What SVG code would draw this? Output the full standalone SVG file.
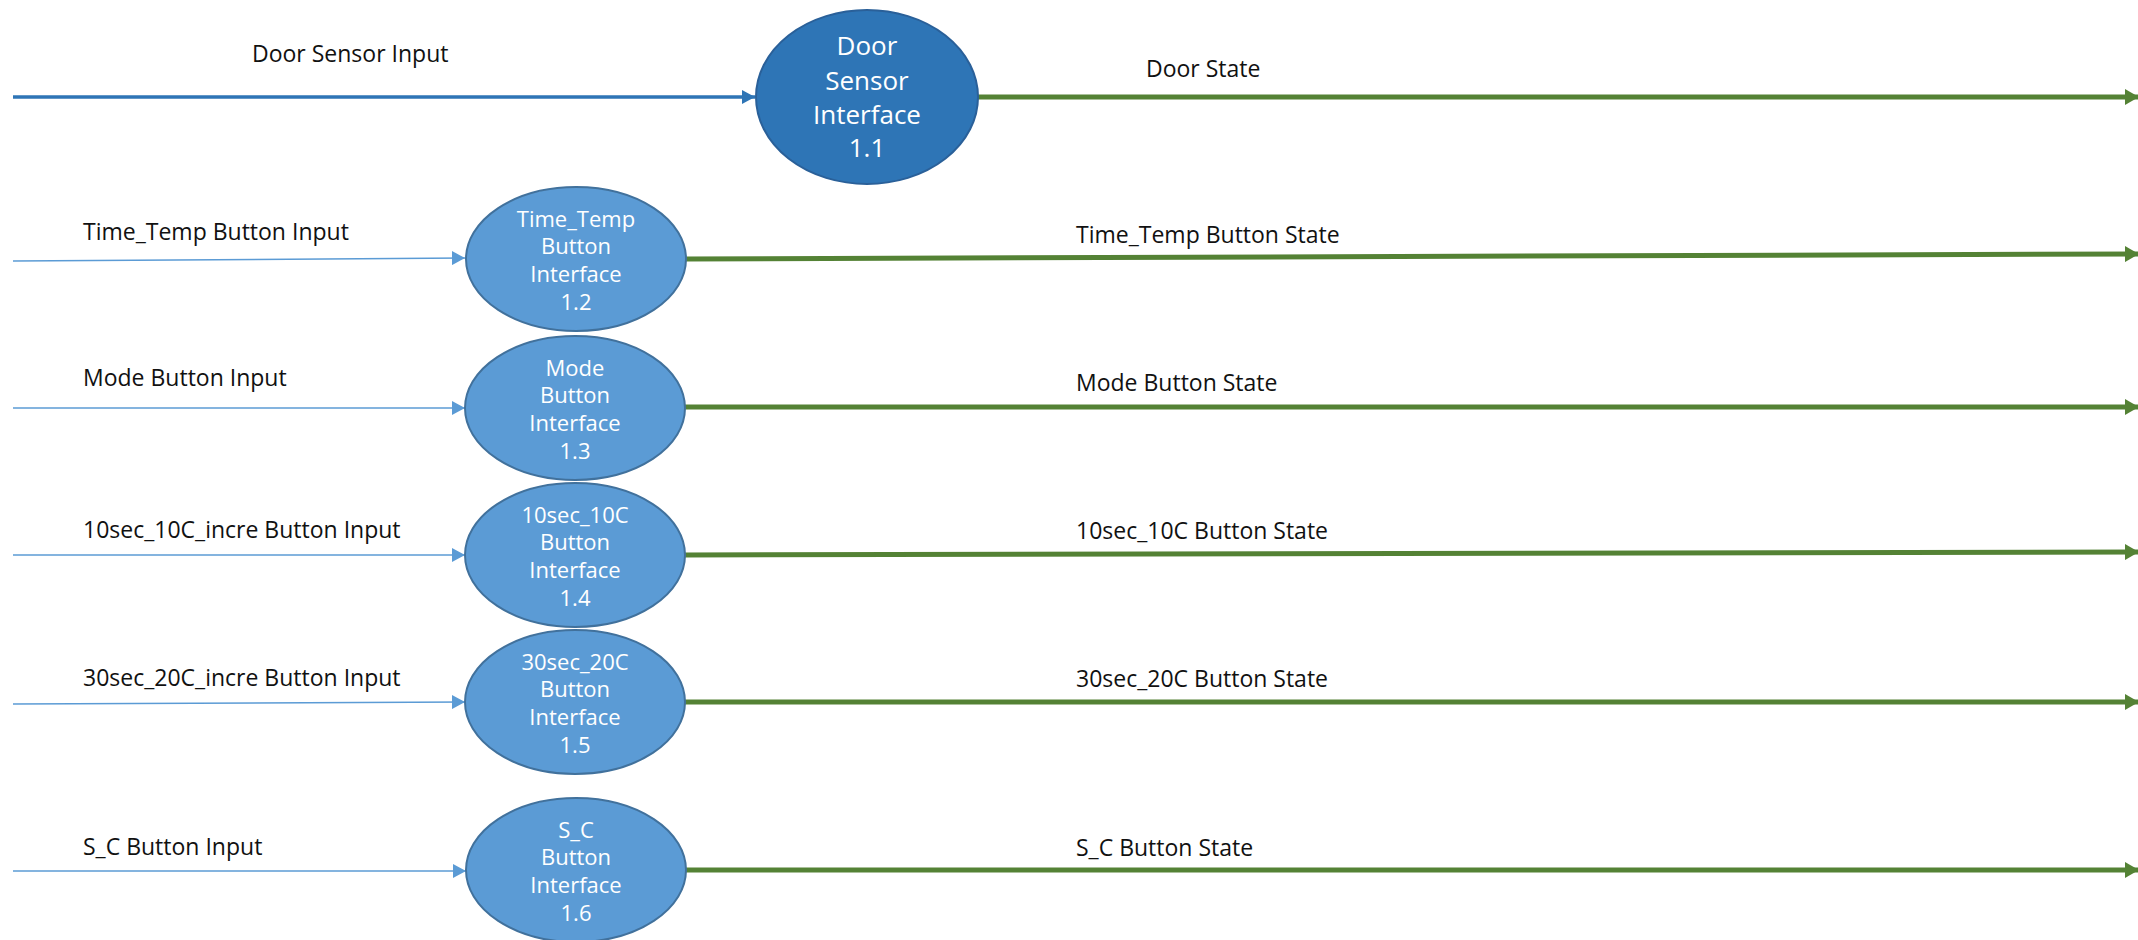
<svg xmlns="http://www.w3.org/2000/svg" width="2138" height="940" viewBox="0 0 2138 940">
<style>
  .lbl { font-family: "Open Sans", "Noto Sans", sans-serif; font-size: 23px; fill: #111; }
  .nt { font-family: "Open Sans", "Noto Sans", sans-serif; font-size: 22px; fill: #fff; text-anchor: middle; }
  .nt1 { font-family: "Open Sans", "Noto Sans", sans-serif; font-size: 26px; fill: #fff; text-anchor: middle; }
  .node { fill: #5b9bd5; stroke: #41719c; stroke-width: 2; }
  .node1 { fill: #2e75b6; stroke: #2a6099; stroke-width: 2; }
  .in { fill: none; stroke: #5b9bd5; stroke-width: 1.5; marker-end: url(#ahIn); }
  .in1 { fill: none; stroke: #2e75b6; stroke-width: 3.5; marker-end: url(#ahIn1); }
  .out { fill: none; stroke: #548235; stroke-width: 5; marker-end: url(#ahOut); }
</style>
<defs>
  <marker id="ahIn" markerUnits="userSpaceOnUse" markerWidth="14" markerHeight="14" refX="13" refY="7" orient="auto">
    <path d="M0,0 L13,7 L0,14 Z" fill="#5b9bd5"/>
  </marker>
  <marker id="ahIn1" markerUnits="userSpaceOnUse" markerWidth="14" markerHeight="14" refX="13" refY="7" orient="auto">
    <path d="M0,0 L13,7 L0,14 Z" fill="#2e75b6"/>
  </marker>
  <marker id="ahOut" markerUnits="userSpaceOnUse" markerWidth="14" markerHeight="16" refX="13" refY="8" orient="auto">
    <path d="M0,0 L14,8 L0,16 Z" fill="#548235"/>
  </marker>
</defs>
<rect width="2138" height="940" fill="#fff"/>

<g id="connectors">
  <line class="in1" x1="13" y1="97" x2="755" y2="97"/>
  <line class="out" x1="978" y1="97" x2="2138" y2="97"/>
  <line class="in" x1="13" y1="261" x2="465" y2="258"/>
  <line class="out" x1="686" y1="259" x2="2138" y2="254"/>
  <line class="in" x1="13" y1="408" x2="465" y2="408"/>
  <line class="out" x1="685" y1="407" x2="2138" y2="407"/>
  <line class="in" x1="13" y1="555" x2="465" y2="555"/>
  <line class="out" x1="685" y1="555" x2="2138" y2="552"/>
  <line class="in" x1="13" y1="704" x2="465" y2="702"/>
  <line class="out" x1="685" y1="702" x2="2138" y2="702"/>
  <line class="in" x1="13" y1="871" x2="466" y2="871"/>
  <line class="out" x1="686" y1="870" x2="2138" y2="870"/>
</g>

<g id="labels">
  <text class="lbl" x="252" y="62">Door Sensor Input</text>
  <text class="lbl" x="1146" y="77">Door State</text>
  <text class="lbl" x="83" y="240">Time_Temp Button Input</text>
  <text class="lbl" x="1076" y="243">Time_Temp Button State</text>
  <text class="lbl" x="83" y="386">Mode Button Input</text>
  <text class="lbl" x="1076" y="391">Mode Button State</text>
  <text class="lbl" x="83" y="538">10sec_10C_incre Button Input</text>
  <text class="lbl" x="1076" y="539">10sec_10C Button State</text>
  <text class="lbl" x="83" y="686">30sec_20C_incre Button Input</text>
  <text class="lbl" x="1076" y="687">30sec_20C Button State</text>
  <text class="lbl" x="83" y="855">S_C Button Input</text>
  <text class="lbl" x="1076" y="856">S_C Button State</text>
</g>

<g id="node-1-1">
  <ellipse class="node1" cx="867" cy="97" rx="111" ry="87"/>
  <text class="nt1" x="867" y="55">Door</text>
  <text class="nt1" x="867" y="90">Sensor</text>
  <text class="nt1" x="867" y="124">Interface</text>
  <text class="nt1" x="867" y="157">1.1</text>
</g>
<g id="node-1-2">
  <ellipse class="node" cx="576" cy="259" rx="110" ry="72"/>
  <text class="nt" x="576" y="227">Time_Temp</text>
  <text class="nt" x="576" y="254">Button</text>
  <text class="nt" x="576" y="282">Interface</text>
  <text class="nt" x="576" y="310">1.2</text>
</g>
<g id="node-1-3">
  <ellipse class="node" cx="575" cy="408" rx="110" ry="72"/>
  <text class="nt" x="575" y="376">Mode</text>
  <text class="nt" x="575" y="403">Button</text>
  <text class="nt" x="575" y="431">Interface</text>
  <text class="nt" x="575" y="459">1.3</text>
</g>
<g id="node-1-4">
  <ellipse class="node" cx="575" cy="555" rx="110" ry="72"/>
  <text class="nt" x="575" y="523">10sec_10C</text>
  <text class="nt" x="575" y="550">Button</text>
  <text class="nt" x="575" y="578">Interface</text>
  <text class="nt" x="575" y="606">1.4</text>
</g>
<g id="node-1-5">
  <ellipse class="node" cx="575" cy="702" rx="110" ry="72"/>
  <text class="nt" x="575" y="670">30sec_20C</text>
  <text class="nt" x="575" y="697">Button</text>
  <text class="nt" x="575" y="725">Interface</text>
  <text class="nt" x="575" y="753">1.5</text>
</g>
<g id="node-1-6">
  <ellipse class="node" cx="576" cy="870" rx="110" ry="72"/>
  <text class="nt" x="576" y="838">S_C</text>
  <text class="nt" x="576" y="865">Button</text>
  <text class="nt" x="576" y="893">Interface</text>
  <text class="nt" x="576" y="921">1.6</text>
</g>
</svg>
